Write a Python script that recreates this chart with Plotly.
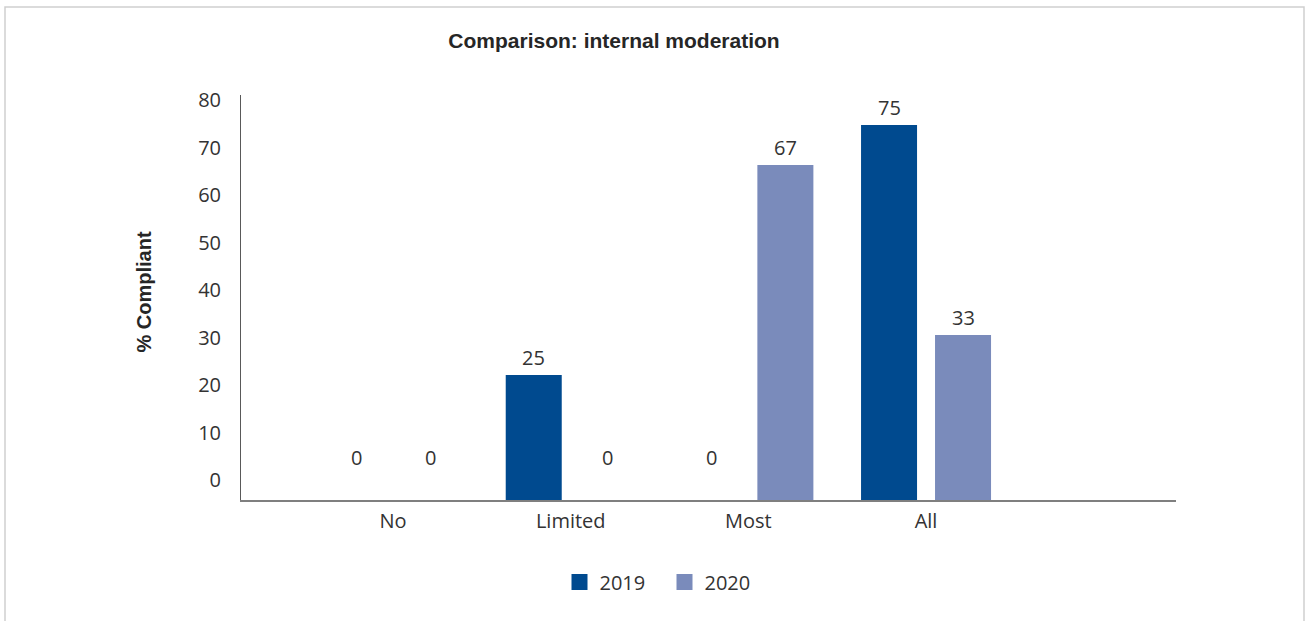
import plotly.graph_objects as go

# ---- data ----
categories = ["No", "Limited", "Most", "All"]
years = ["2019", "2020"]
values_2019 = [0, 25, 0, 75]
values_2020 = [0, 0, 67, 33]
y_ticks = [0, 10, 20, 30, 40, 50, 60, 70, 80]

colors = {"2019": "#004A8F", "2020": "#7A8BBB"}
series = {"2019": values_2019, "2020": values_2020}

# ---- layout geometry (px) ----
W, H = 1307, 621
M_L, M_R, M_T, M_B = 241, 131, 95, 121
plot_w = W - M_L - M_R
plot_h = H - M_T - M_B
x_range = [-0.856, 4.407]
bargap, bargroupgap = 0.167, 0.243
cat_px = plot_w / (x_range[1] - x_range[0])
slot_px = cat_px * (1 - bargap) / 2

tick_font = dict(family="Open Sans", size=20, color="#333333")
bold_font = dict(family="Liberation Sans", size=21, color="#262626")

fig = go.Figure()

for yr in years:
    fig.add_trace(go.Bar(
        name=yr, x=categories, y=series[yr],
        marker=dict(color=colors[yr], line=dict(width=0)),
        showlegend=False, hoverinfo="x+y",
    ))
    # legend entry with a larger square swatch
    fig.add_trace(go.Scatter(
        name=yr, x=[None], y=[None], mode="markers",
        marker=dict(symbol="square", size=16, color=colors[yr]),
        showlegend=True,
    ))

# empty trace so the labelled scale axis gets drawn
fig.add_trace(go.Scatter(
    x=[None], y=[None], yaxis="y2", mode="markers",
    showlegend=False, hoverinfo="skip",
))

# value labels above each bar
annotations = []
for i, yr in enumerate(years):
    offset = (i - 0.5) * slot_px
    for cat, v in zip(categories, series[yr]):
        annotations.append(dict(
            x=cat, y=v, xref="x", yref="y",
            text=str(v), showarrow=False,
            xanchor="center", yanchor="bottom",
            xshift=offset, yshift=(2 if v else 27),
            font=tick_font,
        ))

# y-axis title
annotations.append(dict(
    x=0, y=0.5, xref="paper", yref="paper",
    text="<b>% Compliant</b>", textangle=-90, showarrow=False,
    xanchor="center", yanchor="middle", xshift=-98, yshift=5,
    font=dict(family="Liberation Sans", size=20, color="#262626"),
))

# light frame around the chart
shapes = [dict(
    type="rect", xref="paper", yref="paper",
    x0=(5 - M_L) / plot_w, x1=(1304 - M_L) / plot_w,
    y0=(H - M_B - 630) / plot_h, y1=(H - M_B - 7) / plot_h,
    line=dict(color="#CFCFCF", width=1.5), fillcolor="rgba(0,0,0,0)",
    layer="below",
)]

fig.update_layout(
    width=W, height=H,
    margin=dict(l=M_L, r=M_R, t=M_T, b=M_B, pad=0),
    paper_bgcolor="white", plot_bgcolor="white",
    barmode="group", bargap=bargap, bargroupgap=bargroupgap,
    title=dict(
        text="<b>Comparison: internal moderation</b>",
        x=614 / W, xanchor="center", xref="container",
        y=1 - 41 / H, yanchor="middle", yref="container",
        font=bold_font,
    ),
    xaxis=dict(
        type="category", range=x_range,
        showline=True, linecolor="#7F7F7F", linewidth=1.5,
        showgrid=False, zeroline=False, ticks="",
        tickfont=tick_font, ticklabelstandoff=2,
    ),
    yaxis=dict(
        range=[0, 81], showline=True, linecolor="#595959", linewidth=1,
        showgrid=False, zeroline=False, ticks="", showticklabels=False,
        fixedrange=True,
    ),
    yaxis2=dict(
        overlaying="y", anchor="x", side="left",
        range=[-4.2105, 81.0526], tickvals=y_ticks,
        showline=False, showgrid=False, zeroline=False, ticks="",
        tickfont=tick_font, ticklabelstandoff=19,
    ),
    legend=dict(
        orientation="h", x=(664.5 - M_L) / plot_w, xanchor="center",
        y=(H - M_B - 582) / plot_h, yanchor="middle",
        font=tick_font, entrywidth=60, itemclick=False,
    ),
    annotations=annotations, shapes=shapes,
    showlegend=True,
)

fig.write_html("out.html")
